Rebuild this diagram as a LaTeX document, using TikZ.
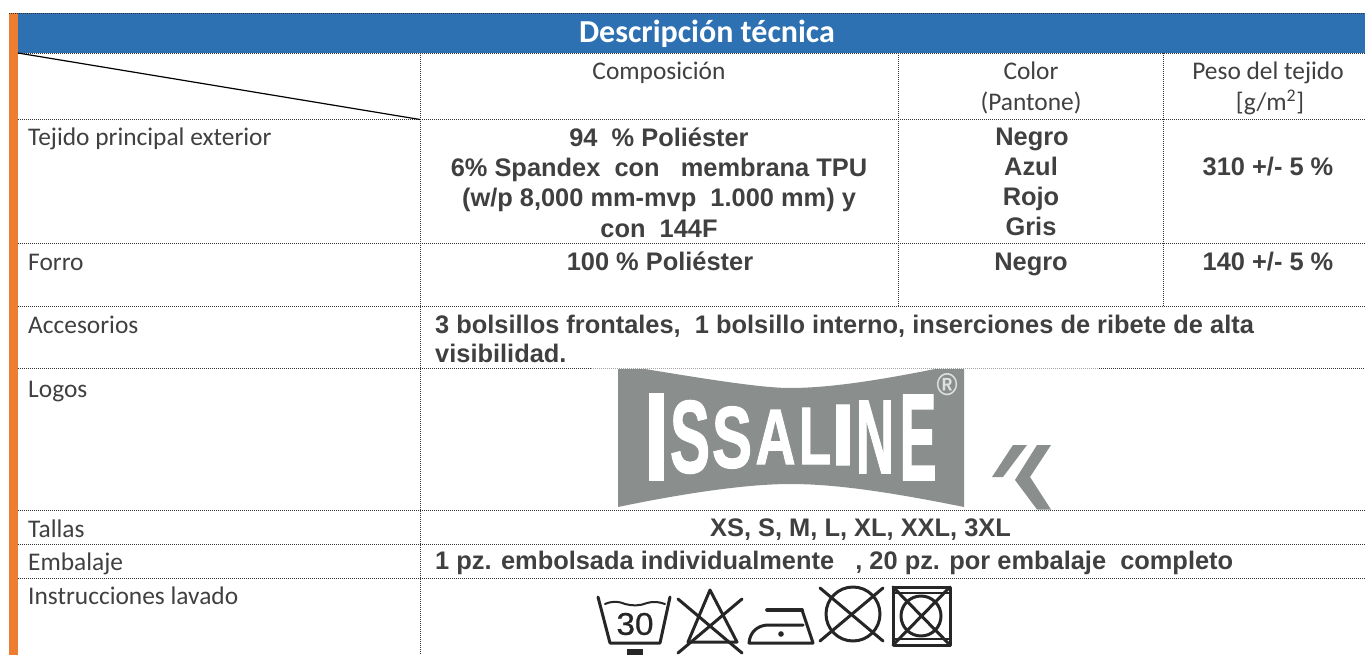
\documentclass[tikz,border=0pt]{standalone}
\usepackage{fontspec}
\usepackage{graphicx}
\setmainfont{Carlito}
\newfontfamily\arialb[BoldFont=Liberation Sans Bold]{Liberation Sans}
\newfontfamily\logof[FakeBold=1.5]{Liberation Sans Bold}
\newfontfamily\thirtyf[FakeBold=0.6]{Liberation Sans}
\definecolor{bluehead}{HTML}{2E71B2}
\definecolor{orangebar}{HTML}{ED7D31}
\definecolor{txt}{HTML}{404040}
\definecolor{logogray}{HTML}{8A8F8D}
\tikzset{
  grid/.style={draw=black!80,line width=0.9pt,dash pattern=on 1pt off 1pt},
  gridlight/.style={draw=black!35,line width=0.6pt,dash pattern=on 1pt off 1pt},
  lab/.style={anchor=base west,inner sep=0pt,text=txt,font=\fontsize{25.4}{28}\selectfont},
  labc/.style={anchor=base,inner sep=0pt,text=txt,font=\fontsize{25.4}{28}\selectfont},
  val/.style={anchor=base,inner sep=0pt,text=txt,font=\fontsize{25.4}{28}\selectfont\arialb\bfseries},
  vall/.style={anchor=base west,inner sep=0pt,text=txt,font=\fontsize{25.4}{28}\selectfont\arialb\bfseries},
  icon/.style={draw=black!85,line width=3pt,line cap=round,line join=round},
  iconthin/.style={draw=black!85,line width=2pt,line cap=round,line join=round},
}
\newcommand{\lettr}[6]{\node[inner sep=0pt,text=white,font=\logof] (#6) at (#1,#2) {\resizebox{#3pt}{#4pt}{#5}};}
\begin{document}
\begin{tikzpicture}[x=1pt,y=-1pt]
\useasboundingbox (0,0) rectangle (1365,655);
\fill[white] (0,0) rectangle (1365,655);
\fill[orangebar] (9,13) rectangle (18,655);
\fill[bluehead] (18,13) rectangle (1365,53);
% grid
\draw[grid] (9,13) -- (1365,13);
\draw[grid] (18,53) -- (1365,53);
\draw[grid] (18,119.5) -- (1365,119.5);
\draw[grid] (18,243.5) -- (1365,243.5);
\draw[grid] (18,306) -- (1365,306);
\draw[grid] (18,368.5) -- (591,368.5);
\draw[gridlight] (591,368.5) -- (1099,368.5);
\draw[grid] (1099,368.5) -- (1365,368.5);
\draw[grid] (18,510) -- (1365,510);
\draw[grid] (18,544) -- (1365,544);
\draw[grid] (18,578) -- (1365,578);
\draw[grid] (420,53) -- (420,655);
\draw[grid] (898,53) -- (898,306);
\draw[grid] (1163,53) -- (1163,306);
\draw[black,line width=1.2pt] (18,53) -- (420,119.5);
% title
\node[anchor=base,inner sep=0pt,text=white,font=\fontsize{32}{36}\selectfont\bfseries] (title) at (707,43) {Descripción técnica};
% header
\node[labc] (h1) at (659,80) {Composición};
\node[labc] (h2) at (1031,80) {Color};
\node[labc] (h2b) at (1031,111) {(Pantone)};
\node[labc] (h3) at (1268,80) {Peso del tejido};
\node[labc] (h3b) at (1270,111) {[g/m\textsuperscript{2}]};
% left column
\node[lab] (l1) at (28,146) {Tejido principal exterior};
\node[lab] (l2) at (28,270) {Forro};
\node[lab] (l3) at (28,333) {Accesorios};
\node[lab] (l4) at (28,397) {Logos};
\node[lab] (l5) at (28,537) {Tallas};
\node[lab] (l6) at (28,570) {Embalaje};
\node[lab] (l7) at (28,604) {Instrucciones lavado};
% composition
\node[val] (c1) at (659,147) {94\ \ \% Poliéster};
\node[val] (c2) at (659,176.5) {6\% Spandex\ \ con\ \ \ membrana TPU};
\node[val] (c3) at (659,206.5) {(w/p 8,000 mm-mvp\ \ 1.000 mm) y};
\node[val] (c4) at (659,237) {con\ \ 144F};
\node[val] (c5) at (660,270) {100 \% Poliéster};
% colour
\node[val] (k1) at (1032,146) {Negro};
\node[val] (k2) at (1031,176) {Azul};
\node[val] (k3) at (1031,206) {Rojo};
\node[val] (k4) at (1031,236) {Gris};
\node[val] (k5) at (1031,270) {Negro};
\node[val] (p1) at (1268,176) {310 +/- 5 \%};
\node[val] (p2) at (1268,270) {140 +/- 5 \%};
% others
\node[vall] (a1) at (435,333) {3 bolsillos frontales,\ \ 1 bolsillo interno, inserciones de ribete de alta};
\node[vall] (a2) at (435,362) {visibilidad.};
\node[val] (t1) at (860.5,536) {XS, S, M, L, XL, XXL, 3XL};
\node[vall] (e1) at (435,569) {1 pz. embolsada individualmente\ \ \ , 20 pz. por embalaje\ \ completo};
% logo
\fill[logogray] (618,369) -- (645,369) .. controls (700,378) and (760,388) .. (790,388)
  .. controls (830,388) and (880,380) .. (935,369) -- (964,369) -- (964,507)
  .. controls (880,490) and (830,484) .. (790,484) .. controls (750,484) and (690,492) .. (618,507) -- cycle;
\lettr{656.5}{437}{26}{86}{I}{L1}
\lettr{690}{437}{40}{72}{S}{L2}
\lettr{732}{437.5}{40}{61}{S}{L3}
\lettr{775.5}{437}{40}{54}{A}{L4}
\lettr{815}{436}{32}{56}{L}{L5}
\lettr{843}{435}{24}{60}{I}{L6}
\lettr{875}{437}{38}{72}{N}{L7}
\lettr{918}{437.5}{37}{85}{E}{L8}
\node[inner sep=0pt,text=black!12,font=\arialb\bfseries] (reg) at (947,385) {\resizebox{21pt}{22pt}{®}};
\fill[logogray] (1013,445) -- (1027,445) -- (1003,477) -- (992,477) -- cycle;
\fill[logogray] (1037,445) -- (1051,445) -- (1030,477) -- (1051,509.5) -- (1037,509.5) -- (1015,480) -- cycle;
% washing symbols
\draw[icon] (598,597) -- (610,643) -- (660,643) -- (670,597);
\draw[iconthin] (605,604) .. controls (612,601) and (618,601) .. (625,604) .. controls (632,606) and (640,606) .. (647,603) .. controls (654,601) and (659,602) .. (665,604);
\node[inner sep=0pt,text=black!85,font=\thirtyf] (thirty) at (635,624) {\resizebox{37pt}{22pt}{30}};
\fill[black!85] (627,649) rectangle (643,655);
\draw[icon] (710,590) -- (737,642) -- (688,642) -- cycle;
\draw[icon] (678,599) -- (742,653);
\draw[icon] (742,599) -- (678,653);
\draw[icon,line width=3.6pt] (767,610) -- (802,610);
\draw[icon] (802,610) -- (813,643) -- (749,643) .. controls (750,632) and (757,626) .. (767,625) -- (803,625);
\fill[black!85] (781,634) circle (2.8);
\draw[icon] (853,614) circle (27);
\draw[icon] (820,588) -- (883,641);
\draw[icon] (883,588) -- (820,641);
\draw[icon] (893,587) rectangle (950,645);
\draw[iconthin] (893,593) -- (950,593);
\draw[iconthin] (893,639) -- (950,639);
\draw[icon] (921,616) circle (20);
\draw[icon] (893,587) -- (950,645);
\draw[icon] (950,587) -- (893,645);
\end{tikzpicture}
\end{document}
